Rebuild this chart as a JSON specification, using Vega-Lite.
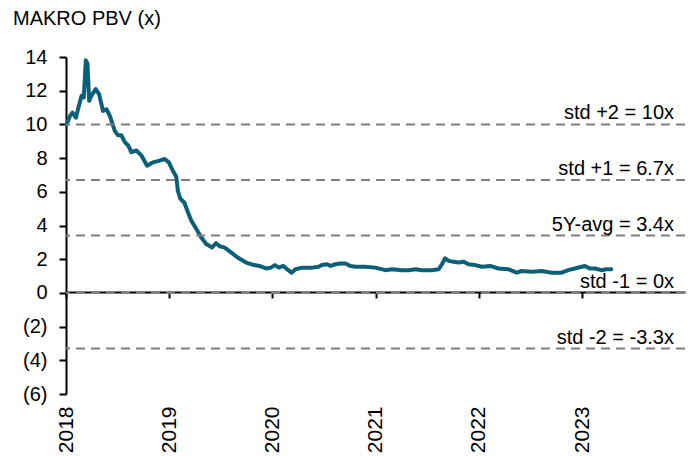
{
  "$schema": "https://vega.github.io/schema/vega-lite/v6.json",
  "width": 619,
  "height": 337,
  "autosize": "none",
  "padding": {"left": 66, "top": 57, "right": 14, "bottom": 62},
  "background": "white",
  "config": {
    "view": {"stroke": null},
    "font": "Liberation Sans",
    "axisY": {"title": null, "values": [-6, -4, -2, 0, 2, 4, 6, 8, 10, 12, 14], "labelExpr": "datum.value < 0 ? '(' + abs(datum.value) + ')' : datum.value + '\u00a0'", "labelFontSize": 20, "labelColor": "black", "labelFont": "Liberation Sans", "labelPadding": 12, "domainColor": "black", "domainWidth": 2, "tickColor": "black", "tickWidth": 2, "tickSize": 7, "grid": false, "labelOverlap": false, "labelBound": false, "labelFlush": false}
  },
  "title": {"text": "MAKRO PBV (x)", "anchor": "start", "frame": "group", "dx": -53, "offset": 18, "fontSize": 20, "fontWeight": "normal", "color": "black", "font": "Liberation Sans"},
  "datasets": {
    "pbv": [
      {"date": "2018-01-03", "pbv": 10.0},
      {"date": "2018-01-15", "pbv": 10.5},
      {"date": "2018-01-24", "pbv": 10.7},
      {"date": "2018-02-05", "pbv": 10.4},
      {"date": "2018-02-17", "pbv": 11.2},
      {"date": "2018-02-25", "pbv": 11.7},
      {"date": "2018-03-05", "pbv": 11.6},
      {"date": "2018-03-12", "pbv": 13.8},
      {"date": "2018-03-18", "pbv": 13.6},
      {"date": "2018-03-24", "pbv": 11.4},
      {"date": "2018-04-01", "pbv": 11.7},
      {"date": "2018-04-16", "pbv": 12.1},
      {"date": "2018-04-28", "pbv": 11.8},
      {"date": "2018-05-12", "pbv": 10.8},
      {"date": "2018-05-24", "pbv": 10.9},
      {"date": "2018-06-05", "pbv": 10.5},
      {"date": "2018-06-23", "pbv": 9.6},
      {"date": "2018-07-04", "pbv": 9.35},
      {"date": "2018-07-16", "pbv": 9.35},
      {"date": "2018-07-28", "pbv": 8.95},
      {"date": "2018-08-09", "pbv": 8.75},
      {"date": "2018-08-20", "pbv": 8.35},
      {"date": "2018-09-07", "pbv": 8.45},
      {"date": "2018-09-25", "pbv": 8.15},
      {"date": "2018-10-15", "pbv": 7.55},
      {"date": "2018-11-05", "pbv": 7.75},
      {"date": "2018-11-28", "pbv": 7.85},
      {"date": "2018-12-16", "pbv": 7.95},
      {"date": "2018-12-31", "pbv": 7.75},
      {"date": "2019-01-14", "pbv": 7.25},
      {"date": "2019-01-26", "pbv": 6.9},
      {"date": "2019-02-01", "pbv": 6.05},
      {"date": "2019-02-09", "pbv": 5.6},
      {"date": "2019-02-24", "pbv": 5.35},
      {"date": "2019-03-08", "pbv": 4.8},
      {"date": "2019-03-20", "pbv": 4.3},
      {"date": "2019-04-07", "pbv": 3.8},
      {"date": "2019-04-24", "pbv": 3.3},
      {"date": "2019-05-12", "pbv": 2.9},
      {"date": "2019-06-02", "pbv": 2.7},
      {"date": "2019-06-16", "pbv": 2.95},
      {"date": "2019-07-01", "pbv": 2.75},
      {"date": "2019-07-15", "pbv": 2.7},
      {"date": "2019-08-08", "pbv": 2.4},
      {"date": "2019-08-31", "pbv": 2.1},
      {"date": "2019-09-30", "pbv": 1.8},
      {"date": "2019-10-29", "pbv": 1.65},
      {"date": "2019-11-16", "pbv": 1.6},
      {"date": "2019-12-10", "pbv": 1.45},
      {"date": "2019-12-27", "pbv": 1.5},
      {"date": "2020-01-10", "pbv": 1.65},
      {"date": "2020-01-24", "pbv": 1.5},
      {"date": "2020-02-08", "pbv": 1.6},
      {"date": "2020-02-23", "pbv": 1.4},
      {"date": "2020-03-09", "pbv": 1.2},
      {"date": "2020-03-23", "pbv": 1.4},
      {"date": "2020-04-16", "pbv": 1.5},
      {"date": "2020-05-21", "pbv": 1.5},
      {"date": "2020-06-13", "pbv": 1.55},
      {"date": "2020-06-23", "pbv": 1.65},
      {"date": "2020-07-13", "pbv": 1.7},
      {"date": "2020-07-25", "pbv": 1.6},
      {"date": "2020-08-11", "pbv": 1.7},
      {"date": "2020-08-29", "pbv": 1.75},
      {"date": "2020-09-16", "pbv": 1.75},
      {"date": "2020-10-03", "pbv": 1.6},
      {"date": "2020-10-21", "pbv": 1.55},
      {"date": "2020-11-25", "pbv": 1.55},
      {"date": "2020-12-30", "pbv": 1.5},
      {"date": "2021-02-04", "pbv": 1.35},
      {"date": "2021-02-28", "pbv": 1.4},
      {"date": "2021-04-04", "pbv": 1.35},
      {"date": "2021-04-28", "pbv": 1.35},
      {"date": "2021-05-21", "pbv": 1.4},
      {"date": "2021-06-14", "pbv": 1.35},
      {"date": "2021-07-19", "pbv": 1.35},
      {"date": "2021-08-11", "pbv": 1.4},
      {"date": "2021-08-23", "pbv": 1.7},
      {"date": "2021-09-03", "pbv": 2.05},
      {"date": "2021-09-16", "pbv": 1.9},
      {"date": "2021-10-03", "pbv": 1.85},
      {"date": "2021-10-21", "pbv": 1.8},
      {"date": "2021-11-08", "pbv": 1.85},
      {"date": "2021-11-25", "pbv": 1.7},
      {"date": "2021-12-19", "pbv": 1.65},
      {"date": "2022-01-11", "pbv": 1.55},
      {"date": "2022-02-10", "pbv": 1.6},
      {"date": "2022-03-11", "pbv": 1.45},
      {"date": "2022-04-16", "pbv": 1.4},
      {"date": "2022-05-15", "pbv": 1.2},
      {"date": "2022-06-01", "pbv": 1.3},
      {"date": "2022-07-07", "pbv": 1.25},
      {"date": "2022-08-11", "pbv": 1.3},
      {"date": "2022-09-15", "pbv": 1.2},
      {"date": "2022-10-20", "pbv": 1.2},
      {"date": "2022-11-13", "pbv": 1.35},
      {"date": "2022-12-06", "pbv": 1.45},
      {"date": "2022-12-30", "pbv": 1.55},
      {"date": "2023-01-11", "pbv": 1.6},
      {"date": "2023-01-28", "pbv": 1.45},
      {"date": "2023-02-15", "pbv": 1.45},
      {"date": "2023-03-10", "pbv": 1.35},
      {"date": "2023-03-28", "pbv": 1.4},
      {"date": "2023-04-14", "pbv": 1.4}
    ],
    "refs": [
      {"value": 10, "label": "std +2 = 10x"},
      {"value": 6.7, "label": "std +1 = 6.7x"},
      {"value": 3.4, "label": "5Y-avg = 3.4x"},
      {"value": 0, "label": "std -1 = 0x"},
      {"value": -3.3, "label": "std -2 = -3.3x"}
    ]
  },
  "layer": [
    {
      "data": {"name": "pbv"},
      "mark": {"type": "line", "color": "#0b5f78", "strokeWidth": 4, "strokeJoin": "round", "strokeCap": "round"},
      "encoding": {
        "x": {
          "field": "date", "type": "temporal",
          "scale": {"type": "utc", "domain": [{"year": 2018, "month": 1, "date": 1, "utc": true}, {"year": 2023, "month": 12, "date": 31, "utc": true}]},
          "axis": {"orient": "bottom", "title": null, "format": "%Y", "formatType": "utc", "tickCount": "year", "labelAngle": -90, "labelAlign": "right", "labelBaseline": "middle", "labelFontSize": 21, "labelColor": "black", "labelFont": "Liberation Sans", "labelPadding": 12, "domain": false, "ticks": false, "grid": false, "labelOverlap": false}
        },
        "y": {
          "field": "pbv", "type": "quantitative",
          "scale": {"domain": [-6, 14], "nice": false, "zero": false}
        }
      }
    },
    {
      "data": {"name": "refs"},
      "mark": {"type": "rule", "color": "#808080", "strokeWidth": 2, "strokeDash": [9, 6]},
      "encoding": {
        "y": {"field": "value", "type": "quantitative"}
      }
    },
    {
      "data": {"name": "refs"},
      "mark": {"type": "text", "align": "right", "baseline": "alphabetic", "dx": -11, "dy": -5, "fontSize": 20, "font": "Liberation Sans", "color": "black"},
      "encoding": {
        "x": {
          "datum": {"year": 2023, "month": 12, "date": 31, "utc": true}, "type": "temporal",
          "axis": {"orient": "bottom", "offset": -102, "title": null, "labels": false, "tickCount": "year", "domain": true, "domainColor": "black", "domainWidth": 2, "ticks": true, "tickColor": "black", "tickWidth": 2, "tickSize": 6, "grid": false}
        },
        "y": {"field": "value", "type": "quantitative"},
        "text": {"field": "label"}
      }
    }
  ],
  "resolve": {"axis": {"x": "independent"}}
}
